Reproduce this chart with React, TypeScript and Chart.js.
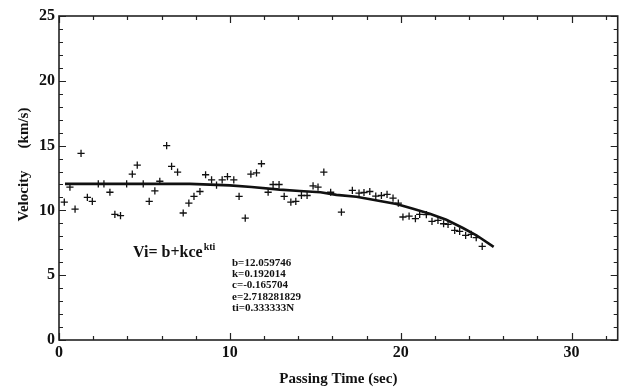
import React, { useEffect, useRef } from "react";
import { Chart, registerables } from "chart.js";

Chart.register(...registerables);

// Measured points (passing time in sec, velocity in km/s)
const obsTime = [
  0.31, 0.64, 0.94, 1.29, 1.66, 1.95, 2.3, 2.63, 2.98, 3.27, 3.6, 3.96, 4.29, 4.58, 4.93,
  5.28, 5.61, 5.9, 6.3, 6.59, 6.94, 7.27, 7.6, 7.9, 8.25, 8.58, 8.93, 9.22, 9.55, 9.86,
  10.23, 10.54, 10.9, 11.23, 11.56, 11.85, 12.24, 12.53, 12.88, 13.18, 13.57, 13.86, 14.19,
  14.52, 14.87, 15.16, 15.5, 15.9, 16.53, 17.17, 17.56, 17.85, 18.19, 18.54, 18.87, 19.2,
  19.55, 19.86, 20.13, 20.49, 20.86, 21.11, 21.5, 21.83, 22.18, 22.51, 22.77, 23.16, 23.45,
  23.8, 24.13, 24.42, 24.77,
];
const obsVelocity = [
  10.64, 11.8, 10.1, 14.4, 11.0, 10.7, 12.05, 12.05, 11.4, 9.7, 9.6, 12.05, 12.8, 13.5, 12.05,
  10.7, 11.5, 12.25, 15.0, 13.4, 12.95, 9.8, 10.56, 11.08, 11.46, 12.75, 12.35, 11.95, 12.35, 12.6,
  12.35, 11.08, 9.4, 12.8, 12.9, 13.6, 11.4, 12.0, 12.0, 11.08, 10.64, 10.7, 11.15,
  11.15, 11.9, 11.8, 12.95, 11.4, 9.87, 11.54, 11.33, 11.38, 11.46, 11.1, 11.15, 11.23,
  10.95, 10.56, 9.49, 9.56, 9.36, 9.69, 9.67, 9.15, 9.23, 8.97, 8.92, 8.46, 8.38,
  8.08, 8.15, 7.9, 7.23,
];

// Fitted curve
const fitTime = [0.35, 7.66, 10.0, 11.27, 12.92, 14.09, 15.3, 16.24, 17.41, 18.38, 19.75, 20.72, 21.7, 22.67, 23.64, 24.43, 25.44];
const fitVelocity = [12.05, 12.05, 11.93, 11.8, 11.6, 11.5, 11.4, 11.2, 11.05, 10.82, 10.5, 10.13, 9.74, 9.28, 8.64, 8.08, 7.18];

const xTickLabels = [0, 10, 20, 30];
const yTickLabels = [0, 5, 10, 15, 20, 25];
const xTitle = "Passing Time (sec)";
const yTitleParts = ["Velocity", "(km/s)"];
const equationMain = "Vi= b+kce";
const equationSup = "kti";
const paramLines = ["b=12.059746", "k=0.192014", "c=-0.165704", "e=2.718281829", "ti=0.333333N"];

const SERIF = "'Liberation Serif', 'Times New Roman', serif";

const framePlugin = {
  id: "frameTicks",
  afterDatasetsDraw(chart: any) {
    const { ctx, chartArea: a, scales } = chart;
    const xs = scales.x;
    const ys = scales.y;
    ctx.save();
    ctx.strokeStyle = "#222";
    ctx.lineWidth = 1.2;
    const major = 7;
    const minor = 4;
    for (let v = 0; v <= xs.max + 1e-9; v += 2) {
      const px = Math.round(xs.getPixelForValue(v)) + 0.5;
      const len = v % 10 === 0 ? major : minor;
      ctx.beginPath();
      ctx.moveTo(px, a.bottom);
      ctx.lineTo(px, a.bottom - len);
      ctx.moveTo(px, a.top);
      ctx.lineTo(px, a.top + len);
      ctx.stroke();
    }
    for (let v = 0; v <= ys.max + 1e-9; v += 1) {
      const py = Math.round(ys.getPixelForValue(v)) + 0.5;
      const len = v % 5 === 0 ? major : minor;
      ctx.beginPath();
      ctx.moveTo(a.left, py);
      ctx.lineTo(a.left + len, py);
      ctx.moveTo(a.right, py);
      ctx.lineTo(a.right - len, py);
      ctx.stroke();
    }
    ctx.lineWidth = 1.6;
    ctx.strokeStyle = "#222";
    ctx.strokeRect(a.left, a.top, a.right - a.left, a.bottom - a.top);

    // axis titles
    ctx.fillStyle = "#111";
    ctx.font = `bold 15px ${SERIF}`;
    ctx.textAlign = "center";
    ctx.textBaseline = "alphabetic";
    ctx.fillText(xTitle, (a.left + a.right) / 2, 383);

    ctx.save();
    ctx.translate(28, 0);
    ctx.rotate(-Math.PI / 2);
    ctx.textAlign = "center";
    ctx.fillText(yTitleParts[0], -196, 0);
    ctx.fillText(yTitleParts[1], -128, 0);
    ctx.restore();

    // equation annotation
    ctx.textAlign = "left";
    ctx.font = `bold 16px ${SERIF}`;
    ctx.fillText(equationMain, 133, 256.5);
    const w = ctx.measureText(equationMain).width;
    ctx.font = `bold 10px ${SERIF}`;
    ctx.fillText(equationSup, 133 + w + 1, 250);

    ctx.font = `bold 11px ${SERIF}`;
    paramLines.forEach((t, i) => {
      ctx.fillText(t, 232, 266 + i * 11.2);
    });
    ctx.restore();
  },
};

export default function App() {
  const ref = useRef<HTMLCanvasElement | null>(null);

  useEffect(() => {
    if (!ref.current) return;
    const chart = new Chart(ref.current, {
      type: "scatter",
      data: {
        datasets: [
          {
            label: "fit",
            type: "line",
            data: fitTime.map((t, i) => ({ x: t, y: fitVelocity[i] })),
            borderColor: "#111",
            borderWidth: 2.6,
            pointRadius: 0,
            tension: 0,
            fill: false,
          },
          {
            label: "observed",
            data: obsTime.map((t, i) => ({ x: t, y: obsVelocity[i] })),
            pointStyle: "cross",
            pointRadius: 3.6,
            borderColor: "#111",
            backgroundColor: "#111",
            pointBorderWidth: 1.3,
          },
        ],
      },
      options: {
        animation: false,
        responsive: false,
        devicePixelRatio: 1,
        layout: { padding: { top: 16, right: 4, left: 0, bottom: 0 } },
        plugins: { legend: { display: false }, tooltip: { enabled: false }, title: { display: false } },
        scales: {
          x: {
            type: "linear",
            min: 0,
            max: 32.7,
            grid: { display: false, drawTicks: false },
            border: { display: false },
            afterBuildTicks: (s: any) => {
              s.ticks = xTickLabels.map((v) => ({ value: v }));
            },
            afterFit: (s: any) => {
              s.height = 48;
            },
            ticks: {
              color: "#111",
              padding: 3,
              maxRotation: 0,
              autoSkip: false,
              font: { family: SERIF, size: 16, weight: "bold" },
            },
          },
          y: {
            type: "linear",
            min: 0,
            max: 25,
            grid: { display: false, drawTicks: false },
            border: { display: false },
            afterBuildTicks: (s: any) => {
              s.ticks = yTickLabels.map((v) => ({ value: v }));
            },
            afterFit: (s: any) => {
              s.width = 59;
            },
            ticks: {
              color: "#111",
              padding: 4,
              autoSkip: false,
              font: { family: SERIF, size: 16, weight: "bold" },
            },
          },
        },
      },
      plugins: [framePlugin],
    } as any);
    return () => chart.destroy();
  }, []);

  return (
    <div style={{ position: "absolute", left: 0, top: 0, width: 623, height: 388, background: "#fff" }}>
      <canvas ref={ref} width={623} height={388} />
    </div>
  );
}
